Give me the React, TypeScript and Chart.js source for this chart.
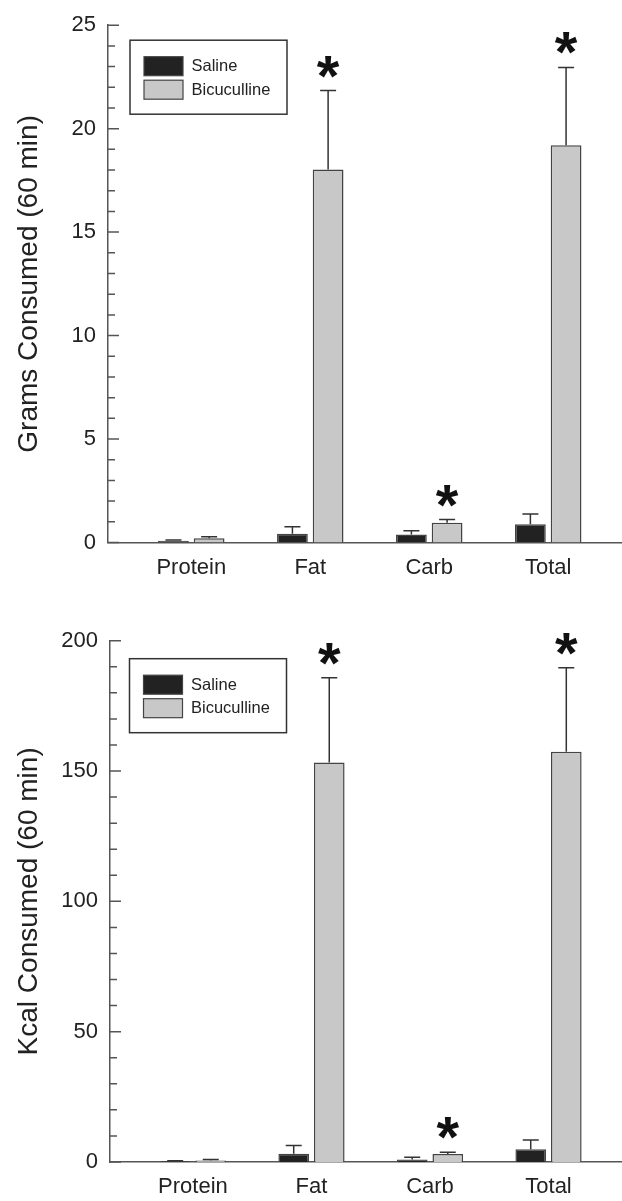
import React, { useEffect, useRef } from 'react';
import { Chart, registerables } from 'chart.js';
Chart.register(...registerables);

const categories = ['Protein', 'Fat', 'Carb', 'Total'];
const seriesNames = ['Saline', 'Bicuculline'];

const gramsSaline = [0.08, 0.42, 0.39, 0.88];
const gramsSalineErr = [0.04, 0.34, 0.18, 0.5];
const gramsBic = [0.2, 18.03, 0.95, 19.2];
const gramsBicErr = [0.08, 3.81, 0.16, 3.76];
const gramsSig = [false, true, true, true];
const gramsTicks = [0, 5, 10, 15, 20, 25];

const kcalSaline = [0.3, 3.2, 1.0, 4.9];
const kcalSalineErr = [0.2, 3.1, 0.8, 3.5];
const kcalBic = [0.6, 153.3, 3.1, 157.4];
const kcalBicErr = [0.4, 32.5, 0.6, 32.2];
const kcalSig = [false, true, true, true];
const kcalTicks = [0, 50, 100, 150, 200];

const FONT = "'Liberation Sans', Arial, Helvetica, sans-serif";
const AXIS = '#555555';
const TEXT = '#222222';

type PanelDef = {
  title: string;
  saline: number[];
  salineErr: number[];
  bic: number[];
  bicErr: number[];
  sig: boolean[];
  ticks: number[];
  minorStep: number;
  yMax: number;
  padTop: number;
  axisLeft: number;
  xAxisH: number;
  legendDx: number;
  legendDy: number;
};

const gramsPanel: PanelDef = {
  title: 'Grams Consumed (60 min)',
  saline: gramsSaline, salineErr: gramsSalineErr,
  bic: gramsBic, bicErr: gramsBicErr, sig: gramsSig,
  ticks: gramsTicks, minorStep: 1, yMax: 25,
  padTop: 20, axisLeft: 108, xAxisH: 57.5,
  legendDx: 22, legendDy: 15,
};

const kcalPanel: PanelDef = {
  title: 'Kcal Consumed (60 min)',
  saline: kcalSaline, salineErr: kcalSalineErr,
  bic: kcalBic, bicErr: kcalBicErr, sig: kcalSig,
  ticks: kcalTicks, minorStep: 10, yMax: 200,
  padTop: 40.7, axisLeft: 110, xAxisH: 39,
  legendDx: 19.5, legendDy: 18,
};

function makeDecor(p: PanelDef) {
  return {
    id: 'decor',
    afterDatasetsDraw(chart: any) {
      const ctx = chart.ctx;
      const y = chart.scales.y;
      const errs = [p.salineErr, p.bicErr];
      const vals = [p.saline, p.bic];
      ctx.save();
      // error bars
      for (let d = 0; d < 2; d++) {
        const meta = chart.getDatasetMeta(d);
        meta.data.forEach((bar: any, i: number) => {
          const top = y.getPixelForValue(vals[d][i] + errs[d][i]);
          ctx.strokeStyle = '#333333';
          ctx.lineWidth = 1.5;
          ctx.beginPath();
          ctx.moveTo(bar.x, bar.y);
          ctx.lineTo(bar.x, top);
          ctx.moveTo(bar.x - 8, top);
          ctx.lineTo(bar.x + 8, top);
          ctx.stroke();
          if (d === 1 && p.sig[i]) {
            ctx.fillStyle = '#111111';
            ctx.font = `bold 58px ${FONT}`;
            ctx.textAlign = 'center';
            ctx.textBaseline = 'alphabetic';
            const m = ctx.measureText('*');
            const desc = m.actualBoundingBoxDescent;
            ctx.fillText('*', bar.x, top - 13 - desc);
          }
        });
      }
      ctx.restore();
    },
    afterDraw(chart: any) {
      const ctx = chart.ctx;
      const y = chart.scales.y;
      const area = chart.chartArea;
      ctx.save();
      // inward y ticks
      ctx.strokeStyle = AXIS;
      ctx.lineWidth = 1.5;
      ctx.beginPath();
      for (let v = 0; v <= p.yMax + 1e-9; v += p.minorStep) {
        const major = p.ticks.some((t) => Math.abs(t - v) < 1e-9);
        const py = y.getPixelForValue(v);
        ctx.moveTo(area.left, py);
        ctx.lineTo(area.left + (major ? 11 : 7), py);
      }
      ctx.stroke();
      // legend
      const bx = area.left + p.legendDx;
      const by = area.top + p.legendDy;
      ctx.fillStyle = '#ffffff';
      ctx.fillRect(bx, by, 157, 74);
      ctx.strokeStyle = '#333333';
      ctx.lineWidth = 1.5;
      ctx.strokeRect(bx, by, 157, 74);
      chart.data.datasets.forEach((ds: any, i: number) => {
        const sy = by + 16.5 + i * 23.5;
        ctx.fillStyle = ds.backgroundColor;
        ctx.fillRect(bx + 14, sy, 39, 19);
        ctx.strokeStyle = '#444444';
        ctx.lineWidth = 1.2;
        ctx.strokeRect(bx + 14, sy, 39, 19);
        ctx.fillStyle = TEXT;
        ctx.font = `16.5px ${FONT}`;
        ctx.textAlign = 'left';
        ctx.textBaseline = 'middle';
        ctx.fillText(ds.label, bx + 61.5, sy + 10);
      });
      ctx.restore();
    },
  };
}

function buildConfig(p: PanelDef): any {
  return {
    type: 'bar',
    data: {
      datasets: [
        {
          label: seriesNames[0],
          data: p.saline.map((v, i) => ({ x: i + 1, y: v })),
          backgroundColor: '#222222',
          borderColor: '#444444',
          borderWidth: 1.5,
        },
        {
          label: seriesNames[1],
          data: p.bic.map((v, i) => ({ x: i + 1, y: v })),
          backgroundColor: '#c8c8c8',
          borderColor: '#444444',
          borderWidth: 1.5,
        },
      ],
    },
    options: {
      animation: false,
      responsive: false,
      devicePixelRatio: 1,
      layout: { padding: { top: p.padTop, left: 0, right: 0, bottom: 0 } },
      datasets: { bar: { categoryPercentage: 0.6, barPercentage: 0.862 } },
      plugins: { legend: { display: false }, tooltip: { enabled: false } },
      scales: {
        x: {
          type: 'linear',
          min: 0.3,
          max: 4.62,
          offset: false,
          grid: { display: false, drawTicks: false },
          border: { display: true, color: AXIS, width: 1.5 },
          afterBuildTicks: (s: any) => {
            s.ticks = categories.map((_, i) => ({ value: i + 1 }));
          },
          afterFit: (s: any) => {
            s.height = p.xAxisH;
          },
          ticks: {
            callback: (v: any) => categories[Math.round(v) - 1] ?? '',
            font: { family: FONT, size: 22 },
            color: TEXT,
            padding: 12,
            autoSkip: false,
            maxRotation: 0,
          },
        },
        y: {
          min: 0,
          max: p.yMax,
          afterBuildTicks: (s: any) => {
            s.ticks = p.ticks.map((v) => ({ value: v }));
          },
          afterFit: (s: any) => {
            s.width = p.axisLeft;
          },
          grid: { display: false, drawTicks: false },
          border: { display: true, color: AXIS, width: 1.5 },
          ticks: { font: { family: FONT, size: 22 }, color: TEXT, padding: 12 },
          title: {
            display: true,
            text: p.title,
            font: { family: FONT, size: 28 },
            color: TEXT,
            padding: { top: 12, bottom: 0 },
          },
        },
      },
    },
    plugins: [makeDecor(p)],
  };
}

function Panel({ panel, height }: { panel: PanelDef; height: number }) {
  const ref = useRef<HTMLCanvasElement>(null);
  useEffect(() => {
    const c = new Chart(ref.current as HTMLCanvasElement, buildConfig(panel));
    return () => c.destroy();
  }, [panel]);
  return (
    <canvas
      ref={ref}
      width={622}
      height={height}
      style={{ display: 'block', width: 622, height }}
    />
  );
}

export default function App() {
  return (
    <div style={{ position: 'absolute', left: 0, top: 0, width: 622, height: 1201, background: '#ffffff' }}>
      <Panel panel={gramsPanel} height={600} />
      <Panel panel={kcalPanel} height={601} />
    </div>
  );
}
